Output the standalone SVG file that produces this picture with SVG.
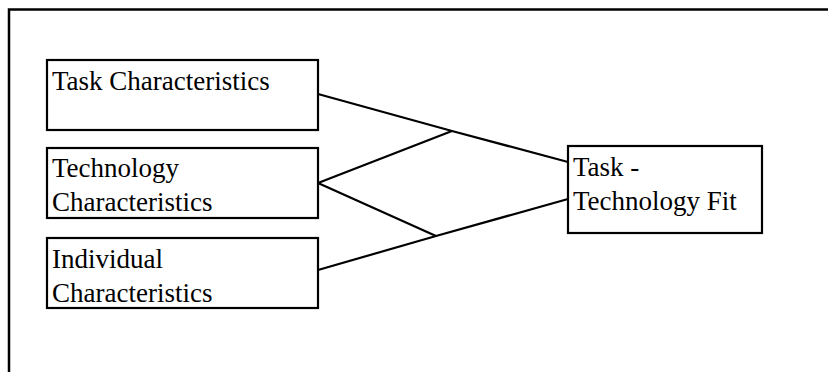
<svg xmlns="http://www.w3.org/2000/svg" width="828" height="372" viewBox="0 0 828 372">
<style>
.box{fill:#fff;stroke:#000;stroke-width:2.2}
.t{font-family:"Liberation Serif","Times New Roman",serif;font-size:27px;fill:#000}
.c{fill:none;stroke:#000;stroke-width:2.2;stroke-linejoin:miter}
.frame{fill:none;stroke:#000;stroke-width:2.5}
</style>
<rect width="828" height="372" fill="#fff"/>
<path class="frame" d="M9,372 V9.5 H828"/>
<g id="connectors">
<polyline class="c" points="318,94 452,131 568,162"/>
<line class="c" x1="318" y1="183" x2="452" y2="131"/>
<line class="c" x1="318" y1="183" x2="436" y2="236"/>
<polyline class="c" points="318,270 436,236 568,199"/>
</g>
<g id="task">
<rect class="box" x="47" y="60" width="271" height="70"/>
<text class="t" x="52" y="90">Task Characteristics</text>
</g>
<g id="technology">
<rect class="box" x="47" y="148" width="271" height="70"/>
<text class="t" x="52" y="177">Technology</text>
<text class="t" x="52" y="211">Characteristics</text>
</g>
<g id="individual">
<rect class="box" x="47" y="238" width="271" height="70"/>
<text class="t" x="52" y="268">Individual</text>
<text class="t" x="52" y="302">Characteristics</text>
</g>
<g id="fit">
<rect class="box" x="568" y="146" width="194" height="87"/>
<text class="t" x="573" y="176">Task -</text>
<text class="t" x="573" y="210">Technology Fit</text>
</g>
</svg>
